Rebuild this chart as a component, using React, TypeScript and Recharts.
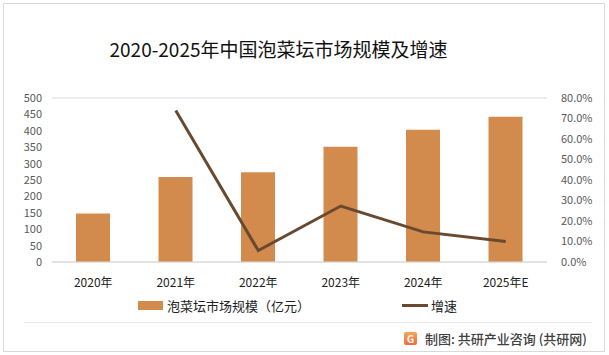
import { Bar, CartesianGrid, ComposedChart, Line, XAxis, YAxis } from "recharts";

const years = ["2020年", "2021年", "2022年", "2023年", "2024年", "2025年E"];
const marketSize = [148, 259, 274, 351, 403, 443];
const growth = [null, 73.9, 5.6, 27.3, 14.7, 10.0];
const leftTicks = [0, 50, 100, 150, 200, 250, 300, 350, 400, 450, 500];
const rightTicks = [0, 10, 20, 30, 40, 50, 60, 70, 80];

const BAR_COLOR = "#D38B4D";
const LINE_COLOR = "#694A30";
const FONT = "'Noto Sans CJK SC', 'Noto Sans', sans-serif";

const chartData = years.map((year, i) => ({
  year,
  size: marketSize[i],
  growth: growth[i]
}));

export default function App() {
  return (
    <div
      style={{
        position: "absolute",
        left: 0,
        top: 0,
        width: 609,
        height: 355,
        background: "#fff",
        fontFamily: FONT,
        overflow: "hidden"
      }}
    >
      <div
        style={{
          position: "absolute",
          left: 3,
          top: 3,
          width: 600,
          height: 347,
          border: "1px solid #D9D9D9"
        }}
      />
      <div
        style={{
          position: "absolute",
          left: 0,
          width: 557,
          top: 35,
          textAlign: "center",
          fontSize: 19,
          color: "#111"
        }}
      >
        2020-2025年中国泡菜坛市场规模及增速
      </div>
      <div style={{ position: "absolute", left: 0, top: 0 }}>
        <ComposedChart
          width={609}
          height={355}
          data={chartData}
          margin={{ top: 98, right: 2, bottom: 63, left: 2 }}
        >
          <CartesianGrid vertical={false} stroke="#D9D9D9" />
          <XAxis
            dataKey="year"
            axisLine={{ stroke: "#D9D9D9" }}
            tickLine={false}
            tickMargin={10}
            height={30}
            tick={{ fontSize: 12, fill: "#222", fontFamily: FONT }}
          />
          <YAxis
            yAxisId="left"
            width={50}
            domain={[0, 500]}
            ticks={leftTicks}
            interval={0}
            axisLine={false}
            tickLine={false}
            tickMargin={4}
            tick={{ fontSize: 11, fill: "#595959", fontFamily: FONT }}
          />
          <YAxis
            yAxisId="right"
            orientation="right"
            width={60}
            domain={[0, 80]}
            ticks={rightTicks}
            interval={0}
            axisLine={false}
            tickLine={false}
            tickMargin={8}
            tickFormatter={(v: number) => `${v.toFixed(1)}%`}
            tick={{ fontSize: 11, fill: "#595959", fontFamily: FONT, textAnchor: "start" }}
          />
          <Bar
            yAxisId="left"
            dataKey="size"
            fill={BAR_COLOR}
            barSize={34}
            isAnimationActive={false}
          />
          <Line
            yAxisId="right"
            dataKey="growth"
            stroke={LINE_COLOR}
            strokeWidth={3}
            dot={false}
            activeDot={false}
            isAnimationActive={false}
          />
        </ComposedChart>
      </div>
      {/* legend */}
      <div
        style={{
          position: "absolute",
          top: 296,
          left: 138,
          display: "flex",
          alignItems: "center",
          fontSize: 13,
          color: "#222"
        }}
      >
        <span style={{ width: 25, height: 9, background: BAR_COLOR, marginRight: 4 }} />
        <span>泡菜坛市场规模（亿元）</span>
        <span style={{ width: 26, height: 3, background: LINE_COLOR, marginLeft: 92, marginRight: 3 }} />
        <span>增速</span>
      </div>
      {/* footer */}
      <div
        style={{
          position: "absolute",
          left: 24,
          top: 322,
          width: 568,
          height: 1,
          background: "#E6E6E6"
        }}
      />
      <div
        style={{
          position: "absolute",
          top: 329,
          left: 404,
          display: "flex",
          alignItems: "center",
          fontSize: 13,
          fontWeight: 500,
          color: "#404040"
        }}
      >
        <span
          style={{
            width: 13,
            height: 13,
            borderRadius: 2,
            background: "linear-gradient(180deg, #F7A35C, #F06A3C)",
            color: "#fff",
            fontSize: 10,
            fontWeight: 700,
            lineHeight: "13px",
            textAlign: "center",
            marginRight: 8
          }}
        >
          G
        </span>
        <span>制图: 共研产业咨询 (共研网)</span>
      </div>
    </div>
  );
}
